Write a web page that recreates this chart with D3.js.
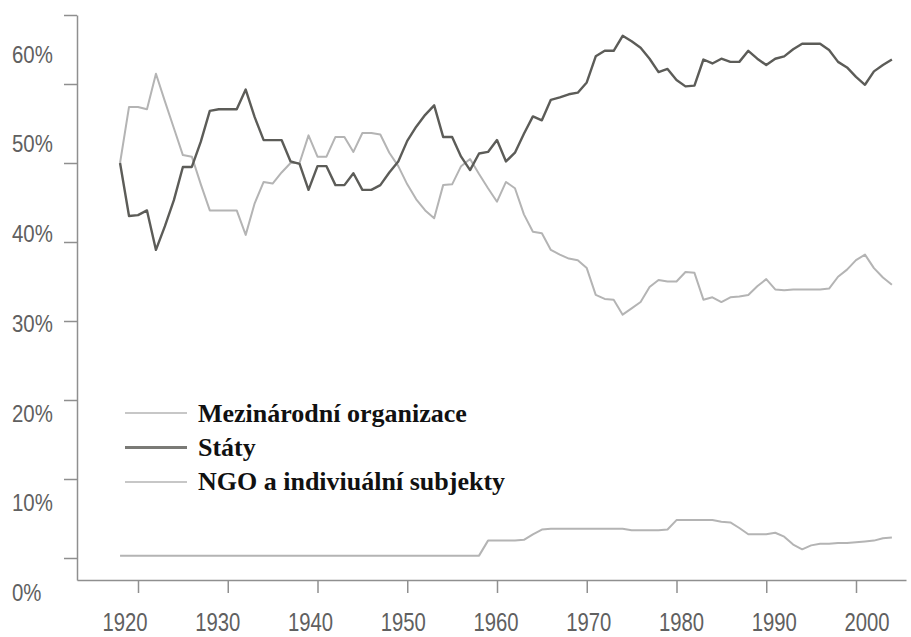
<!DOCTYPE html>
<html>
<head>
<meta charset="utf-8">
<script src="https://cdn.jsdelivr.net/npm/d3@7"></script>
<style>
  body { margin: 0; background: #fff; }
  .axis path, .axis line { stroke: #8f8f8f; stroke-width: 1.5; }
  .tick-label { font-family: "Liberation Sans", Arial, sans-serif; fill: #606060; }
  .legend-text { font-family: "Liberation Serif", "Times New Roman", serif; font-weight: bold; fill: #111; }
</style>
</head>
<body>
<div class="container"></div>
<script>
// Years (one point per year)
const years = [
  1918, 1919, 1920, 1921, 1922, 1923, 1924, 1925, 1926, 1927,
  1928, 1929, 1930, 1931, 1932, 1933, 1934, 1935, 1936, 1937,
  1938, 1939, 1940, 1941, 1942, 1943, 1944, 1945, 1946, 1947,
  1948, 1949, 1950, 1951, 1952, 1953, 1954, 1955, 1956, 1957,
  1958, 1959, 1960, 1961, 1962, 1963, 1964, 1965, 1966, 1967,
  1968, 1969, 1970, 1971, 1972, 1973, 1974, 1975, 1976, 1977,
  1978, 1979, 1980, 1981, 1982, 1983, 1984, 1985, 1986, 1987,
  1988, 1989, 1990, 1991, 1992, 1993, 1994, 1995, 1996, 1997,
  1998, 1999, 2000, 2001, 2002, 2003, 2004
];

// Mezinárodní organizace (%)
const mezinarodni = [
  50.0, 57.1, 57.1, 56.8, 61.3, 57.8, 54.4, 51.0, 50.8, 47.3,
  44.0, 44.0, 44.0, 44.0, 40.9, 44.9, 47.6, 47.4, 48.8, 50.0,
  50.0, 53.5, 50.8, 50.8, 53.3, 53.3, 51.4, 53.8, 53.8, 53.6,
  51.3, 49.6, 47.3, 45.4, 44.0, 43.0, 47.2, 47.3, 49.6, 50.5,
  48.6, 46.8, 45.1, 47.6, 46.8, 43.5, 41.3, 41.1, 39.0, 38.4,
  37.9, 37.7, 36.7, 33.3, 32.8, 32.7, 30.8, 31.6, 32.4, 34.3,
  35.2, 35.0, 35.0, 36.2, 36.1, 32.7, 33.0, 32.4, 33.0, 33.1,
  33.3, 34.4, 35.3, 34.0, 33.9, 34.0, 34.0, 34.0, 34.0, 34.1,
  35.6, 36.5, 37.7, 38.4, 36.7, 35.5, 34.6
];

// Státy (%)
const staty = [
  50.0, 43.3, 43.4, 44.0, 39.0, 42.0, 45.3, 49.5, 49.5, 52.7,
  56.6, 56.8, 56.8, 56.8, 59.3, 55.8, 52.9, 52.9, 52.9, 50.2,
  49.9, 46.6, 49.6, 49.6, 47.2, 47.2, 48.7, 46.6, 46.6, 47.2,
  48.8, 50.2, 52.8, 54.6, 56.1, 57.3, 53.3, 53.3, 50.8, 49.1,
  51.2, 51.4, 52.9, 50.2, 51.3, 53.7, 55.9, 55.4, 58.0, 58.3,
  58.7, 58.9, 60.2, 63.5, 64.2, 64.2, 66.1, 65.4, 64.6, 63.2,
  61.5, 61.9, 60.5, 59.7, 59.8, 63.1, 62.6, 63.2, 62.8, 62.8,
  64.2, 63.2, 62.4, 63.2, 63.5, 64.4, 65.1, 65.1, 65.1, 64.3,
  62.8, 62.1, 60.9, 59.9, 61.6, 62.4, 63.1
];

// NGO a indiviuální subjekty (%)
const ngo = [
  0.3, 0.3, 0.3, 0.3, 0.3, 0.3, 0.3, 0.3, 0.3, 0.3,
  0.3, 0.3, 0.3, 0.3, 0.3, 0.3, 0.3, 0.3, 0.3, 0.3,
  0.3, 0.3, 0.3, 0.3, 0.3, 0.3, 0.3, 0.3, 0.3, 0.3,
  0.3, 0.3, 0.3, 0.3, 0.3, 0.3, 0.3, 0.3, 0.3, 0.3,
  0.3, 2.2, 2.2, 2.2, 2.2, 2.3, 3.0, 3.6, 3.7, 3.7,
  3.7, 3.7, 3.7, 3.7, 3.7, 3.7, 3.7, 3.5, 3.5, 3.5,
  3.5, 3.6, 4.8, 4.8, 4.8, 4.8, 4.8, 4.6, 4.5, 3.8,
  3.0, 3.0, 3.0, 3.2, 2.7, 1.7, 1.1, 1.6, 1.8, 1.8,
  1.9, 1.9, 2.0, 2.1, 2.2, 2.5, 2.6
];

// Tick values and labels
const xTicks = [1920, 1930, 1940, 1950, 1960, 1970, 1980, 1990, 2000];
const yTicks = [0, 10, 20, 30, 40, 50, 60];
const yLabels = ['0%', '10%', '20%', '30%', '40%', '50%', '60%'];

const seriesNames = ['Mezinárodní organizace', 'Státy', 'NGO a indiviuální subjekty'];

// Sizes
const width = 911;
const height = 637;

const svg = d3.select('.container')
  .append('svg')
  .attr('width', width)
  .attr('height', height);

// Scales. Data scale, plus separate ones for the (offset) tick labels.
const xScale = d3.scaleLinear().domain([1920, 2000]).range([138, 856]);
const yScale = d3.scaleLinear().domain([0, 60]).range([558, 84]);

const xAxisScale = xScale.copy()
  .domain([xScale.invert(77), xScale.invert(906)])
  .range([77, 906]);
const yAxisScale = yScale.copy()
  .domain([yScale.invert(580), yScale.invert(15)])
  .range([580, 15]);

const xLabelScale = d3.scaleLinear().domain([1920, 2000]).range([125, 867]);
const yLabelScale = d3.scaleLinear().domain([0, 60]).range([592.5, 54]);

// y axis (ticks only, top end gets a tick too)
svg.append('g')
  .attr('class', 'axis')
  .attr('transform', 'translate(77,0)')
  .call(d3.axisLeft(yAxisScale)
    .tickValues(yTicks.concat([yAxisScale.invert(15)]))
    .tickSize(13)
    .tickSizeOuter(0)
    .tickFormat(''));

// x axis
svg.append('g')
  .attr('class', 'axis')
  .attr('transform', 'translate(0,580)')
  .call(d3.axisBottom(xAxisScale)
    .tickValues(xTicks)
    .tickSize(13)
    .tickSizeOuter(0)
    .tickFormat(''));

// y labels
svg.selectAll('.ylab')
  .data(yTicks)
  .enter()
  .append('text')
  .attr('class', 'tick-label ylab')
  .attr('transform', (d) => 'translate(12,' + (yLabelScale(d) + 8.5) + ') scale(0.85,1)')
  .style('font-size', '24px')
  .text((d, i) => yLabels[i]);

// x labels
svg.selectAll('.xlab')
  .data(xTicks)
  .enter()
  .append('text')
  .attr('class', 'tick-label xlab')
  .attr('text-anchor', 'middle')
  .attr('transform', (d) => 'translate(' + xLabelScale(d) + ',631) scale(0.78,1)')
  .style('font-size', '26px')
  .text((d) => d);

// Lines
const line = d3.line()
  .x((d, i) => xScale(years[i]))
  .y((d) => yScale(d));

const styles = [
  { color: '#b4b4b4', w: 2 },
  { color: '#5c5c58', w: 2.4 },
  { color: '#b4b4b4', w: 2 }
];

[mezinarodni, staty, ngo].forEach((s, k) => {
  svg.append('path')
    .datum(s)
    .attr('d', line)
    .attr('fill', 'none')
    .attr('stroke', styles[k].color)
    .attr('stroke-width', styles[k].w)
    .attr('stroke-linejoin', 'round');
});

// Legend
const legend = svg.append('g').attr('transform', 'translate(125,413)');

legend.selectAll('line')
  .data(seriesNames)
  .enter()
  .append('line')
  .attr('x1', 0)
  .attr('x2', 62)
  .attr('y1', (d, i) => i * 34.5)
  .attr('y2', (d, i) => i * 34.5)
  .attr('stroke', (d, i) => (i === 1 ? '#7a7a76' : styles[i].color))
  .attr('stroke-width', (d, i) => (i === 1 ? 3 : 1.6));

legend.selectAll('text')
  .data(seriesNames)
  .enter()
  .append('text')
  .attr('class', 'legend-text')
  .attr('x', 73)
  .attr('y', (d, i) => i * 34 + 9)
  .style('font-size', '26px')
  .text((d) => d);
</script>
</body>
</html>
